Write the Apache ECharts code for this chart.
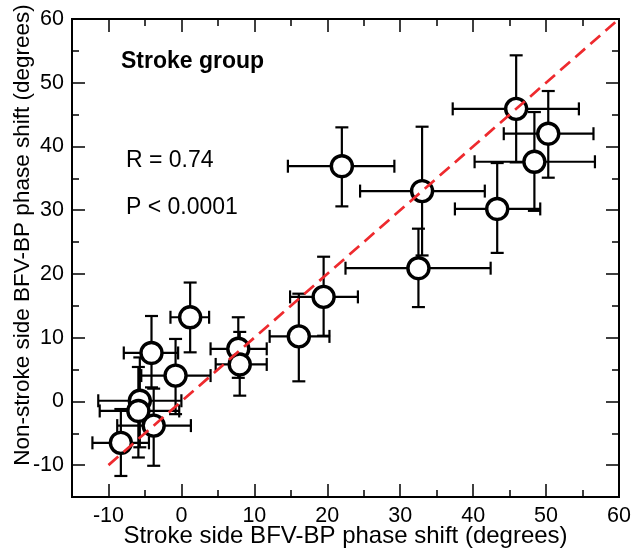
<!DOCTYPE html>
<html>
<head>
<meta charset="utf-8">
<script src="https://cdn.jsdelivr.net/npm/echarts@6/dist/echarts.min.js"></script>
<style>html,body{margin:0;padding:0;background:#fff}#chart{width:633px;height:550px}</style>
</head>
<body>
<div id="chart"></div>
<script>
// Stroke side (x) and non-stroke side (y) BFV-BP phase shift, degrees
const strokeX    = [45.9, 50.3, 48.4, 43.3, 33.0, 22.0, 32.5, 19.5, 16.1, 7.8, 8.0, 1.2, -4.1, -0.8, -5.7, -5.9, -3.8, -8.3];
const nonStrokeY = [45.9, 42.0, 37.6, 30.2, 33.0, 36.9, 20.9, 16.4, 10.2, 8.25, 5.8, 13.2, 7.6, 4.05, 0.1, -1.5, -3.8, -6.5];
const xLow  = [37.2, 44.2, 40.2, 37.5, 24.5, 14.6, 22.5, 14.9, 12.1, 4.0, 4.7, -1.5, -7.9, -5.5, -11.4, -11.2, -8.8, -12.2];
const xHigh = [54.5, 56.5, 56.7, 49.2, 41.6, 29.2, 42.4, 24.2, 20.3, 11.7, 11.7, 3.8, -0.45, 4.0, 0.0, -0.3, 1.3, -4.45];
const yLow  = [37.5, 35.1, 29.9, 23.3, 22.9, 30.6, 14.8, 10.3, 3.15, 3.7, 0.9, 7.7, 2.2, -2.0, -7.2, -8.8, -10.1, -11.7];
const yHigh = [54.3, 48.7, 45.4, 37.4, 43.1, 43.0, 27.1, 22.7, 16.9, 13.2, 10.9, 18.65, 13.4, 9.8, 6.9, 5.4, 2.0, -1.2];
const identityLine = [-10, 60];
const majorTicks = [-10, 0, 10, 20, 30, 40, 50, 60];
const minorTicks = [-15, -5, 5, 15, 25, 35, 45, 55];
const axisMin = -15, axisMax = 60;
const xTitle = 'Stroke side BFV-BP phase shift (degrees)';
const yTitle = 'Non-stroke side BFV-BP phase shift (degrees)';
const notes = ['Stroke group', 'R = 0.74', 'P < 0.0001'];

const FONT = '"Liberation Sans", Arial, sans-serif';
const chart = echarts.init(document.getElementById('chart'), null, {renderer: 'canvas'});

function baseAxis(gridIndex, position, major, withLabels) {
  return {
    type: 'value', gridIndex, position, min: axisMin, max: axisMax,
    axisLine: {show: true, onZero: false, lineStyle: {color: '#000', width: 2}},
    axisTick: {show: true, inside: true, length: major ? 13 : 7,
      customValues: major ? majorTicks : minorTicks, lineStyle: {color: '#000', width: 1.5}},
    axisLabel: {show: withLabels, customValues: majorTicks, color: '#000', fontSize: 21.5, fontFamily: FONT, margin: 8},
    splitLine: {show: false}
  };
}

const xAxes = [
  Object.assign(baseAxis(0, 'bottom', true, true), {
    name: xTitle, nameLocation: 'middle', nameGap: 27, nameMoveOverlap: false,
    nameTextStyle: {fontSize: 24, fontFamily: FONT, color: '#000'}
  }),
  baseAxis(0, 'top', true, false),
  baseAxis(1, 'bottom', false, false),
  baseAxis(1, 'top', false, false)
];
const yAxes = [
  Object.assign(baseAxis(0, 'left', true, true), {
    name: yTitle, nameLocation: 'middle', nameGap: 38, nameRotate: 90, nameMoveOverlap: false,
    nameTextStyle: {fontSize: 22.5, fontFamily: FONT, color: '#000', padding: [0, 0, 0, 46]}
  }),
  baseAxis(0, 'right', true, false),
  baseAxis(1, 'left', false, false),
  baseAxis(1, 'right', false, false)
];

const errData = strokeX.map((x, i) => [x, nonStrokeY[i], xLow[i], xHigh[i], yLow[i], yHigh[i]]);
const pts = strokeX.map((x, i) => [x, nonStrokeY[i]]);

const CAP = 6.5;
function renderErr(params, api) {
  const c = api.coord([api.value(0), api.value(1)]);
  const l = api.coord([api.value(2), api.value(1)]);
  const r = api.coord([api.value(3), api.value(1)]);
  const b = api.coord([api.value(0), api.value(4)]);
  const t = api.coord([api.value(0), api.value(5)]);
  const st = {stroke: '#000', lineWidth: 2.2, fill: null};
  const seg = (x1, y1, x2, y2) => ({type: 'line', shape: {x1, y1, x2, y2}, style: st});
  return {type: 'group', children: [
    seg(l[0], c[1], r[0], c[1]),
    seg(l[0], c[1] - CAP, l[0], c[1] + CAP),
    seg(r[0], c[1] - CAP, r[0], c[1] + CAP),
    seg(c[0], b[1], c[0], t[1]),
    seg(c[0] - CAP, b[1], c[0] + CAP, b[1]),
    seg(c[0] - CAP, t[1], c[0] + CAP, t[1])
  ]};
}

chart.setOption({
  animation: false,
  backgroundColor: '#fff',
  grid: [
    {left: 72, right: 14, top: 19, bottom: 53, outerBoundsMode: 'none'},
    {left: 72, right: 14, top: 19, bottom: 53, outerBoundsMode: 'none'}
  ],
  xAxis: xAxes,
  yAxis: yAxes,
  graphic: [
    {type: 'text', x: 121, y: 62, style: {text: notes[0], font: 'bold 23px ' + FONT, fill: '#000', verticalAlign: 'middle'}},
    {type: 'text', x: 126, y: 161, style: {text: notes[1], font: '23px ' + FONT, fill: '#000', verticalAlign: 'middle'}},
    {type: 'text', x: 126, y: 208, style: {text: notes[2], font: '23px ' + FONT, fill: '#000', verticalAlign: 'middle'}}
  ],
  series: [
    {type: 'custom', xAxisIndex: 0, yAxisIndex: 0, renderItem: renderErr, data: errData, z: 2, silent: true},
    {type: 'scatter', xAxisIndex: 0, yAxisIndex: 0, data: pts, symbol: 'circle', symbolSize: 21, z: 3,
      itemStyle: {color: '#fff', borderColor: '#000', borderWidth: 3.4, opacity: 1}},
    {type: 'line', xAxisIndex: 0, yAxisIndex: 0, data: identityLine.map(v => [v, v]), symbol: 'none', z: 4,
      lineStyle: {color: '#ee2a2e', width: 2.7, type: [13, 7]}}
  ]
});
</script>
</body>
</html>
